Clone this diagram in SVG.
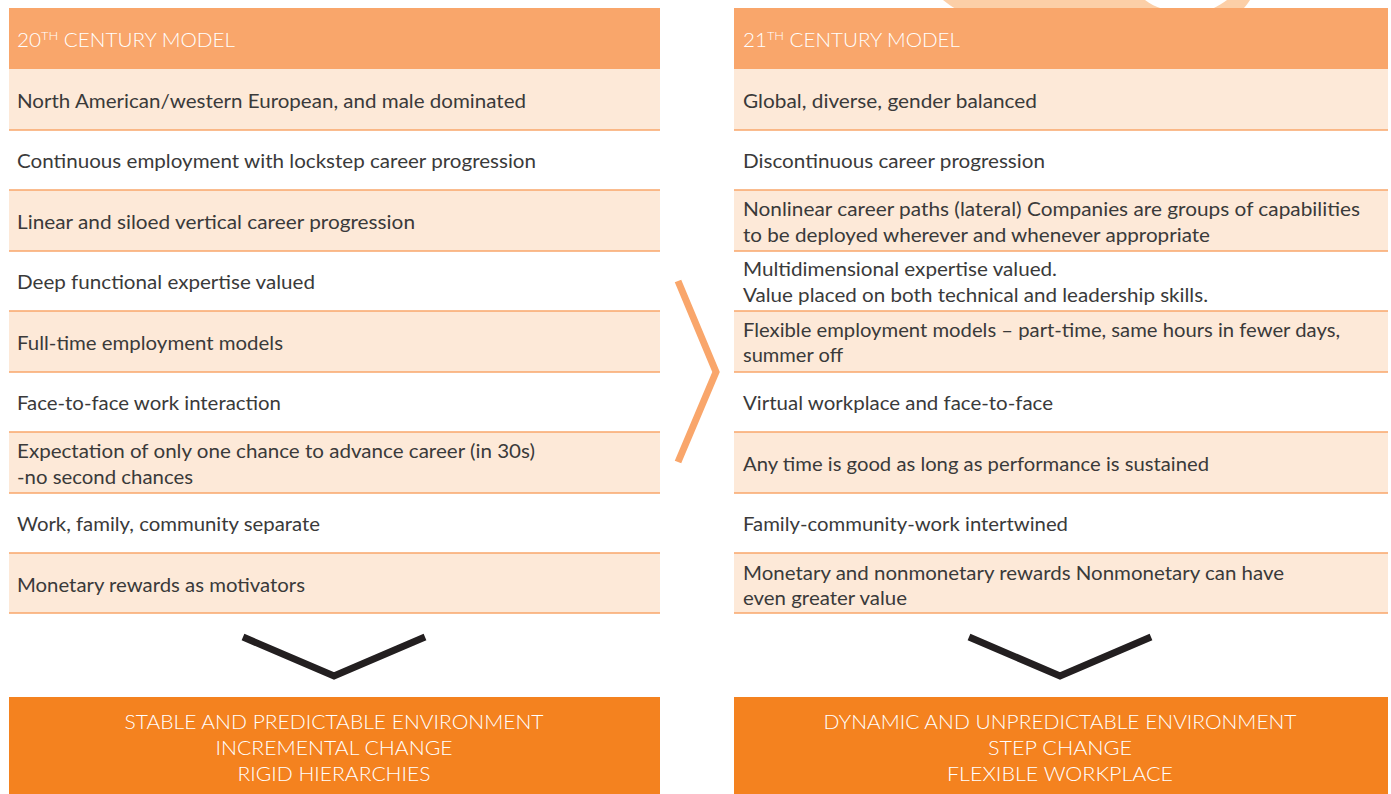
<svg xmlns="http://www.w3.org/2000/svg" width="1391" height="794" viewBox="0 0 1391 794">
<style>
.hdr{fill:#F9A66B}
.peach{fill:#FDE9D8}
.sep{stroke:#F9A66B;stroke-width:1.6;fill:none}
.t{font-family:Lato,"Noto Sans",sans-serif;font-size:18.5px;fill:#3A3A3A}
.tr{font-family:Lato,"Noto Sans",sans-serif;font-size:18.5px;fill:#3A3A3A}
.h{font-family:Lato,"Noto Sans",sans-serif;font-size:20px;font-weight:300;fill:#FFFFFF}
.b{font-family:Lato,"Noto Sans",sans-serif;font-size:19.5px;font-weight:300;fill:#FFFFFF;text-anchor:middle}
.bot{fill:#F4821F}
.chev{fill:none;stroke:#F9A66B;stroke-width:7;stroke-linejoin:miter}
.dchev{fill:none;stroke:#231F20;stroke-width:7;stroke-linejoin:miter}
</style>
<rect width="1391" height="794" fill="#FFFFFF"/>
<g id="bg-arc">
<path d="M943,0 C948,4 952,7 956,9 L1243,9 C1246,6 1248,3 1250,0 Z" fill="#FCCFA7"/>
<path d="M1145,0 C1150,4 1156,7 1163,9 L1212,9 C1218,6 1223,3 1227,0 Z" fill="#FFFFFF"/>
</g>

<g id="left-header">
<rect class="hdr" x="9" y="8" width="651" height="61"/>
<text class="h" x="17" y="47" textLength="218" lengthAdjust="spacingAndGlyphs">20<tspan font-size="12.5" dy="-7">TH</tspan><tspan dy="7"> CENTURY MODEL</tspan></text>
</g>
<g id="right-header">
<rect class="hdr" x="734" y="8" width="654" height="61"/>
<text class="h" x="743" y="47" textLength="217" lengthAdjust="spacingAndGlyphs">21<tspan font-size="12.5" dy="-7">TH</tspan><tspan dy="7"> CENTURY MODEL</tspan></text>
</g>

<g id="left-rows">
<rect class="peach" x="9" y="69" width="651" height="61"/>
<rect class="peach" x="9" y="190" width="651" height="61"/>
<rect class="peach" x="9" y="311" width="651" height="61"/>
<rect class="peach" x="9" y="432" width="651" height="61"/>
<rect class="peach" x="9" y="553" width="651" height="60"/>
<path class="sep" d="M9,130H660M9,190H660M9,251H660M9,311H660M9,372H660M9,432H660M9,493H660M9,553H660M9,613H660"/>
</g>
<g id="right-rows">
<rect class="peach" x="734" y="69" width="654" height="61"/>
<rect class="peach" x="734" y="190" width="654" height="61"/>
<rect class="peach" x="734" y="311" width="654" height="61"/>
<rect class="peach" x="734" y="432" width="654" height="61"/>
<rect class="peach" x="734" y="553" width="654" height="60"/>
<path class="sep" d="M734,130H1388M734,190H1388M734,251H1388M734,311H1388M734,372H1388M734,432H1388M734,493H1388M734,553H1388M734,613H1388"/>
</g>

<g id="l1"><text class="t" x="17" y="107.5" textLength="509" lengthAdjust="spacingAndGlyphs">North American/western European, and male dominated</text></g>
<g id="l2"><text class="t" x="17" y="167.5" textLength="519" lengthAdjust="spacingAndGlyphs">Continuous employment with lockstep career progression</text></g>
<g id="l3"><text class="t" x="17" y="228.5" textLength="398" lengthAdjust="spacingAndGlyphs">Linear and siloed vertical career progression</text></g>
<g id="l4"><text class="t" x="17" y="288.5" textLength="298" lengthAdjust="spacingAndGlyphs">Deep functional expertise valued</text></g>
<g id="l5"><text class="t" x="17" y="349.5" textLength="266" lengthAdjust="spacingAndGlyphs">Full-time employment models</text></g>
<g id="l6"><text class="t" x="17" y="409.5" textLength="264" lengthAdjust="spacingAndGlyphs">Face-to-face work interaction</text></g>
<g id="l7"><text class="t" x="17" y="457.5" textLength="518" lengthAdjust="spacingAndGlyphs">Expectation of only one chance to advance career (in 30s)</text><text class="t" x="17" y="483.5" textLength="176" lengthAdjust="spacingAndGlyphs">-no second chances</text></g>
<g id="l8"><text class="t" x="17" y="530.5" textLength="303" lengthAdjust="spacingAndGlyphs">Work, family, community separate</text></g>
<g id="l9"><text class="t" x="17" y="591.5" textLength="288" lengthAdjust="spacingAndGlyphs">Monetary rewards as motivators</text></g>

<g id="r1"><text class="tr" x="743" y="107.5" textLength="294" lengthAdjust="spacingAndGlyphs">Global, diverse, gender balanced</text></g>
<g id="r2"><text class="tr" x="743" y="167.5" textLength="302" lengthAdjust="spacingAndGlyphs">Discontinuous career progression</text></g>
<g id="r3"><text class="tr" x="743" y="215.5" textLength="617" lengthAdjust="spacingAndGlyphs">Nonlinear career paths (lateral) Companies are groups of capabilities</text><text class="tr" x="743" y="241.5" textLength="467" lengthAdjust="spacingAndGlyphs">to be deployed wherever and whenever appropriate</text></g>
<g id="r4"><text class="tr" x="743" y="275.5" textLength="314" lengthAdjust="spacingAndGlyphs">Multidimensional expertise valued.</text><text class="tr" x="743" y="301.5" textLength="465" lengthAdjust="spacingAndGlyphs">Value placed on both technical and leadership skills.</text></g>
<g id="r5"><text class="tr" x="743" y="336.5" textLength="597" lengthAdjust="spacingAndGlyphs">Flexible employment models – part-time, same hours in fewer days,</text><text class="tr" x="743" y="361.5" textLength="100" lengthAdjust="spacingAndGlyphs">summer off</text></g>
<g id="r6"><text class="tr" x="743" y="409.5" textLength="310" lengthAdjust="spacingAndGlyphs">Virtual workplace and face-to-face</text></g>
<g id="r7"><text class="tr" x="743" y="470.5" textLength="466" lengthAdjust="spacingAndGlyphs">Any time is good as long as performance is sustained</text></g>
<g id="r8"><text class="tr" x="743" y="530.5" textLength="325" lengthAdjust="spacingAndGlyphs">Family-community-work intertwined</text></g>
<g id="r9"><text class="tr" x="743" y="579.5" textLength="541" lengthAdjust="spacingAndGlyphs">Monetary and nonmonetary rewards Nonmonetary can have</text><text class="tr" x="743" y="604.5" textLength="164" lengthAdjust="spacingAndGlyphs">even greater value</text></g>

<g id="left-result">
<rect class="bot" x="9" y="697" width="651" height="97"/>
<text class="b" x="334" y="729" textLength="419" lengthAdjust="spacingAndGlyphs">STABLE AND PREDICTABLE ENVIRONMENT</text>
<text class="b" x="334" y="755" textLength="237" lengthAdjust="spacingAndGlyphs">INCREMENTAL CHANGE</text>
<text class="b" x="334" y="781" textLength="193" lengthAdjust="spacingAndGlyphs">RIGID HIERARCHIES</text>
</g>
<g id="right-result">
<rect class="bot" x="734" y="697" width="654" height="97"/>
<text class="b" x="1060" y="729" textLength="473" lengthAdjust="spacingAndGlyphs">DYNAMIC AND UNPREDICTABLE ENVIRONMENT</text>
<text class="b" x="1060" y="755" textLength="144" lengthAdjust="spacingAndGlyphs">STEP CHANGE</text>
<text class="b" x="1060" y="781" textLength="226" lengthAdjust="spacingAndGlyphs">FLEXIBLE WORKPLACE</text>
</g>

<g id="connectors">
<path class="chev" d="M678,281 L716,372 L678,462"/>
<path class="dchev" d="M243,637 L334,676 L425,637"/>
<path class="dchev" d="M969,637 L1060,676 L1151,637"/>
</g>
</svg>
